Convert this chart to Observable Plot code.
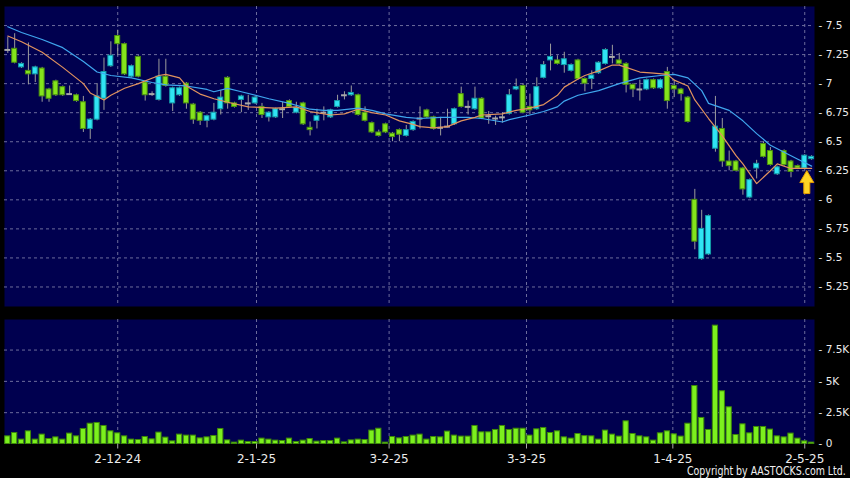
<!DOCTYPE html>
<html><head><meta charset="utf-8">
<script src="https://cdn.jsdelivr.net/npm/d3@7"></script>
<script src="https://cdn.jsdelivr.net/npm/@observablehq/plot@0.6"></script>
<style>
html,body{margin:0;padding:0;background:#000;}
#chart{position:relative;width:850px;height:478px;background:#000;overflow:hidden;font-family:"DejaVu Sans",sans-serif;}
#price{position:absolute;left:0;top:0;}
#vol{position:absolute;left:0;top:312px;}
#copy{position:absolute;left:687px;top:465px;color:#f0f0f0;font-family:"DejaVu Sans",sans-serif;font-size:11.5px;line-height:12px;white-space:nowrap;transform:scaleX(0.82);transform-origin:0 0;}
</style></head><body>
<div id="chart"><div id="price"></div><div id="vol"></div><div id="copy">Copyright by AASTOCKS.com Ltd.</div></div>
<script>
// ---- data (bar index 0 = 8 Nov 2024) ----
const opens = [7.29,7.30,7.14,7.11,7.08,7.13,6.95,7.02,6.97,6.91,
  6.90,6.84,6.61,6.69,6.87,7.15,7.41,7.34,7.06,7.23,
  7.01,6.91,6.86,7.06,6.83,6.90,7.00,6.82,6.75,6.68,
  6.69,6.78,7.05,6.83,6.86,6.83,6.83,6.80,6.71,6.71,
  6.78,6.85,6.75,6.83,6.62,6.68,6.75,6.71,6.80,6.90,
  6.90,6.90,6.75,6.66,6.58,6.65,6.57,6.60,6.55,6.60,
  6.70,6.77,6.71,6.62,6.63,6.65,6.91,6.80,6.78,6.87,
  6.72,6.70,6.71,6.74,6.95,6.98,6.80,6.78,7.05,7.20,
  7.20,7.16,7.11,7.20,7.04,7.04,7.09,7.17,7.23,7.20,
  7.17,6.99,6.95,6.95,7.03,6.96,7.10,6.98,6.95,6.88,
  6.00,5.49,5.53,6.44,6.61,6.33,6.33,6.27,6.02,6.27,
  6.48,6.42,6.22,6.42,6.33,6.29,6.27,6.35];
const closes = [7.29,7.18,7.17,7.08,7.14,6.89,6.87,6.90,6.90,6.91,
  6.85,6.61,6.69,6.89,7.10,7.24,7.34,7.08,7.15,7.06,
  6.90,6.91,7.06,6.98,6.96,6.96,6.83,6.69,6.68,6.72,
  6.75,6.88,6.83,6.80,6.89,6.83,6.88,6.73,6.75,6.78,
  6.78,6.80,6.79,6.65,6.60,6.72,6.75,6.77,6.85,6.90,
  6.92,6.73,6.68,6.58,6.55,6.58,6.54,6.56,6.60,6.67,
  6.70,6.71,6.61,6.62,6.63,6.78,6.80,6.80,6.87,6.70,
  6.72,6.70,6.71,6.90,6.97,6.75,6.77,6.97,7.16,7.23,
  7.17,7.21,7.16,7.04,7.00,7.07,7.18,7.29,7.23,7.17,
  6.99,6.95,6.95,7.03,6.96,7.03,6.85,6.95,6.91,6.67,
  5.64,5.75,5.86,6.63,6.33,6.29,6.25,6.09,6.17,6.31,
  6.37,6.30,6.28,6.30,6.24,6.27,6.38,6.37];
const highs = [7.40,7.43,7.18,7.35,7.15,7.14,6.96,7.03,6.98,6.98,
  6.91,6.89,6.70,7.00,7.22,7.36,7.46,7.35,7.16,7.24,
  7.02,6.93,7.21,7.21,6.97,6.97,7.01,6.83,6.76,6.73,
  6.83,6.94,7.06,6.84,6.90,6.90,6.89,6.83,6.76,6.79,
  6.84,6.86,6.84,6.84,6.67,6.78,6.80,6.78,6.90,6.93,
  6.98,6.91,6.80,6.67,6.60,6.66,6.58,6.61,6.64,6.68,
  6.80,6.78,6.72,6.71,6.78,6.79,6.97,6.85,6.97,6.88,
  6.76,6.72,6.75,6.95,7.04,7.00,6.91,7.05,7.19,7.34,
  7.24,7.27,7.17,7.21,7.05,7.11,7.19,7.30,7.33,7.26,
  7.18,7.00,7.03,7.04,7.04,7.04,7.14,7.03,6.96,6.89,
  6.09,5.91,5.87,6.89,6.70,6.42,6.34,6.28,6.18,6.34,
  6.50,6.45,6.29,6.43,6.34,6.30,6.39,6.38];
const lows = [7.26,7.17,7.13,6.99,7.01,6.84,6.84,6.89,6.89,6.90,
  6.84,6.58,6.52,6.68,6.77,7.14,7.24,7.07,7.05,7.05,
  6.85,6.89,6.85,6.97,6.76,6.89,6.78,6.65,6.64,6.62,
  6.68,6.73,6.78,6.79,6.75,6.77,6.82,6.70,6.67,6.70,
  6.70,6.79,6.74,6.64,6.55,6.61,6.68,6.70,6.79,6.86,
  6.89,6.72,6.67,6.57,6.54,6.57,6.50,6.50,6.54,6.59,
  6.61,6.70,6.60,6.55,6.62,6.64,6.79,6.73,6.77,6.69,
  6.65,6.64,6.66,6.73,6.94,6.74,6.73,6.77,7.04,7.11,
  7.16,7.09,7.10,7.03,6.93,6.95,7.08,7.16,7.17,7.16,
  6.92,6.88,6.85,6.94,6.95,6.95,6.78,6.88,6.85,6.66,
  5.57,5.48,5.52,6.41,6.28,6.25,6.24,6.04,6.01,6.18,
  6.36,6.29,6.21,6.29,6.19,6.26,6.26,6.34];
const volumesK = [0.61,0.88,0.35,1.01,0.35,0.75,0.40,0.53,0.35,0.83,
  0.61,1.20,1.62,1.68,1.44,1.01,0.85,0.61,0.35,0.32,
  0.56,0.37,0.91,0.51,0.21,0.75,0.67,0.67,0.45,0.53,
  0.64,1.20,0.29,0.11,0.27,0.16,0.16,0.43,0.35,0.27,
  0.24,0.43,0.16,0.27,0.40,0.19,0.24,0.24,0.43,0.13,
  0.29,0.35,0.32,1.07,1.22,0.11,0.56,0.45,0.56,0.67,
  0.75,0.35,0.56,0.53,0.99,0.67,0.59,0.59,1.44,0.93,
  0.93,1.12,1.44,1.12,1.22,1.22,0.67,1.17,1.28,0.88,
  1.01,0.53,0.43,0.80,0.63,0.61,0.35,1.07,0.75,0.59,
  1.81,0.80,0.61,0.53,0.27,0.85,1.01,0.77,0.59,1.62,
  4.63,2.08,1.12,9.45,4.21,2.93,0.72,1.57,0.85,1.36,
  1.36,1.15,0.61,0.53,0.83,0.43,0.21,0.11];
// moving averages (bar index, value)
const maSlowIdx = [0,2,5,8,11,13,15,18,21,23,26,29,30,32,34,38,41,44,46,48,51,53,55,58,60,63,67,69,72,73,76,78,80,81,83,86,89,92,95,97,99,101,102,105,107,109,111,113,115,117];
const maSlowVal = [7.49,7.44,7.38,7.31,7.19,7.10,7.07,7.05,7.01,6.99,6.98,6.95,6.93,6.96,6.93,6.87,6.83,6.78,6.77,6.77,6.79,6.77,6.74,6.71,6.70,6.71,6.71,6.70,6.67,6.69,6.73,6.76,6.80,6.85,6.90,6.94,7.00,7.05,7.07,7.08,7.05,6.94,6.83,6.77,6.68,6.57,6.47,6.41,6.35,6.29];
const maFastIdx = [0,2,5,8,11,12,14,15,17,19,22,23,25,26,28,30,32,35,39,42,44,47,49,51,53,55,57,59,60,62,64,66,68,69,72,74,76,78,80,81,83,84,86,88,89,90,92,94,96,97,99,100,102,104,106,107,109,111,112,114,117];
const maFastVal = [7.41,7.36,7.27,7.14,7.00,6.92,6.86,6.90,6.96,7.00,7.07,7.08,7.05,6.98,6.91,6.87,6.84,6.80,6.79,6.80,6.76,6.73,6.74,6.78,6.75,6.73,6.68,6.65,6.63,6.62,6.63,6.68,6.71,6.73,6.74,6.77,6.79,6.82,6.90,6.97,7.04,7.07,7.11,7.16,7.16,7.14,7.10,7.09,7.08,7.03,6.98,6.86,6.70,6.55,6.38,6.31,6.14,6.25,6.31,6.27,6.27];
const tickIdx = [16, 36.2, 55.5, 75.5, 96.8, 116];
const tickLabels = ["2-12-24","2-1-25","3-2-25","3-3-25","1-4-25","2-5-25"];
const priceTicks = [5.25,5.5,5.75,6,6.25,6.5,6.75,7,7.25,7.5];
const volTicks = [2.5,5,7.5];
const volAxisTicks = [0,2.5,5,7.5];
const arrowBar = 116.3, arrowPrice = 6.153;

// ---- styling ----
const navy = "#00004f", gridC = "#6c6c9c", txt = "#ececec";
const upFill = "#30e4f4", upStroke = "#139aa6", dnFill = "#84e41c", dnStroke = "#4b8f10", flatC = "#a8a8a8", wickC = "#9c9c9c";

const bars = opens.map((o, i) => ({i, o, c: closes[i], h: highs[i], l: lows[i], v: volumesK[i],
  dir: closes[i] > o ? "up" : closes[i] < o ? "down" : "flat"}));
const bodies = bars.filter(d => d.dir !== "flat");
const dojis = bars.filter(d => d.dir === "flat");
const maSlow = maSlowIdx.map((i, k) => ({i, v: maSlowVal[k]}));
const maFast = maFastIdx.map((i, k) => ({i, v: maFastVal[k]}));
const xDomain = [-0.48, 117.42];

const arrowSymbol = {draw(ctx) {
  ctx.moveTo(0, -11.5); ctx.lineTo(7, 0.5); ctx.lineTo(3, 0.5); ctx.lineTo(3, 11.5);
  ctx.lineTo(-3, 11.5); ctx.lineTo(-3, 0.5); ctx.lineTo(-7, 0.5); ctx.closePath();
}};

const price = Plot.plot({
  width: 850, height: 312, marginTop: 6, marginBottom: 6, marginLeft: 4, marginRight: 36,
  style: {background: "transparent", color: txt, fontFamily: "DejaVu Sans", fontSize: "10.5px", overflow: "visible"},
  x: {domain: xDomain, axis: null},
  y: {domain: [5.082, 7.664], axis: null},
  color: {type: "identity"},
  marks: [
    Plot.frame({fill: navy, stroke: null}),
    Plot.gridY(priceTicks, {stroke: gridC, strokeOpacity: 1, strokeDasharray: "3,3"}),
    Plot.gridX(tickIdx, {stroke: gridC, strokeOpacity: 1, strokeDasharray: "3,3"}),
    Plot.ruleX(bars, {x: "i", y1: "l", y2: "h", stroke: wickC, strokeWidth: 1}),
    Plot.rect(bodies, {x1: d => d.i - 0.36, x2: d => d.i + 0.36, y1: "o", y2: "c",
      fill: d => d.dir === "up" ? upFill : dnFill, stroke: d => d.dir === "up" ? upStroke : dnStroke, strokeWidth: 1}),
    Plot.ruleY(dojis, {x1: d => d.i - 0.42, x2: d => d.i + 0.42, y: "c", stroke: flatC, strokeWidth: 2}),
    Plot.line(maSlow, {x: "i", y: "v", stroke: "#3fa6ee", strokeWidth: 1.2}),
    Plot.line(maFast, {x: "i", y: "v", stroke: "#e2935e", strokeWidth: 1.2}),
    Plot.dot([{i: arrowBar, v: arrowPrice}], {x: "i", y: "v", symbol: arrowSymbol, fill: "#ffd424", stroke: "#e39a00", strokeWidth: 1}),
    Plot.axisY(priceTicks, {anchor: "right", label: null, tickSize: 0, tickPadding: 4, tickFormat: d => "- " + d, fill: txt})
  ]
});
document.getElementById("price").appendChild(price);

const vol = Plot.plot({
  width: 850, height: 166, marginTop: 7, marginBottom: 34.5, marginLeft: 4, marginRight: 36,
  style: {background: "transparent", color: txt, fontFamily: "DejaVu Sans", fontSize: "10.5px", overflow: "visible"},
  x: {domain: xDomain, axis: null, label: null},
  y: {domain: [0, 9.94], axis: null, label: null},
  marks: [
    Plot.frame({fill: navy, stroke: null}),
    Plot.gridY(volTicks, {stroke: gridC, strokeOpacity: 1, strokeDasharray: "3,3"}),
    Plot.gridX(tickIdx, {stroke: gridC, strokeOpacity: 1, strokeDasharray: "3,3"}),
    Plot.rectY(bars, {x1: d => d.i - 0.38, x2: d => d.i + 0.38, y: "v", fill: "#7cf01e", stroke: "#3e8a08", strokeWidth: 1}),
    Plot.axisY(volAxisTicks, {anchor: "right", label: null, tickSize: 0, tickPadding: 4, tickFormat: d => "- " + (d === 0 ? "0" : d + "K"), fill: txt}),
    Plot.axisX(tickIdx, {anchor: "bottom", label: null, tickSize: 5, tickPadding: 5, stroke: "#aaaaaa",
      tickFormat: d => tickLabels[tickIdx.indexOf(d)], fill: txt, fontSize: 12})
  ]
});
document.getElementById("vol").appendChild(vol);
</script>
</body></html>
